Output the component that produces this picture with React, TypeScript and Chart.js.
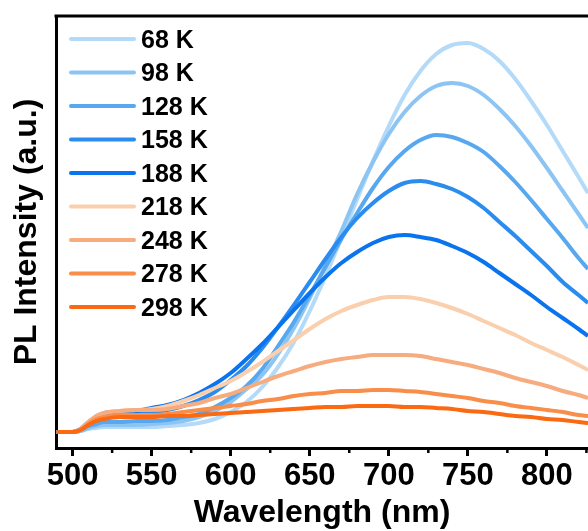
import React, { useEffect, useRef } from 'react';
import { Chart, registerables } from 'chart.js';

Chart.register(...registerables);

// Wavelength grid (nm)
const wavelengths = [490, 500, 505, 510, 515, 520, 530, 540, 550, 560, 570, 580, 590, 600, 610, 620, 630, 640, 650, 660, 670, 680, 690, 700, 710, 720, 730, 740, 750, 760, 770, 780, 790, 800, 810, 820, 826];

// PL intensity (a.u.) per temperature
const k68 = [0, 0, 1, 3, 4, 5, 5, 5, 5, 6, 7, 9, 13, 20, 30, 45, 65, 90, 121, 156, 194, 233, 271, 306, 337, 361, 378, 387, 389, 383, 371, 353, 331, 307, 281, 255, 239];
const k98 = [0, 0, 1, 4, 6, 7, 7, 7, 8, 9, 11, 15, 21, 30, 43, 57, 78, 104, 134, 167, 201, 238, 270, 298, 320, 336, 346, 349, 346, 337, 323, 306, 286, 264, 241, 218, 204];
const k128 = [0, 0, 2, 6, 8, 10, 10, 11, 11, 12, 15, 18, 25, 34, 46, 63, 86, 110, 137, 165, 193, 219, 244, 265, 281, 292, 297, 295, 289, 280, 266, 250, 232, 213, 194, 174, 163];
const k158 = [0, 0, 3, 9, 14, 17, 18, 18, 20, 22, 26, 32, 40, 52, 66, 84, 105, 127, 150, 173, 195, 214, 229, 241, 249, 251, 248, 243, 235, 224, 210, 196, 181, 166, 150, 137, 129];
const k188 = [0, 0, 3, 10, 15, 19, 20, 21, 24, 27, 32, 39, 48, 59, 73, 88, 105, 122, 139, 155, 169, 180, 189, 195, 197, 195, 192, 186, 179, 170, 159, 148, 137, 125, 114, 103, 96];
const k218 = [0, 0, 3, 10, 16, 19, 21, 22, 23, 26, 31, 37, 44, 51, 60, 70, 81, 92, 103, 113, 121, 127, 132, 135, 135, 133, 129, 124, 118, 111, 104, 97, 89, 82, 75, 67, 62];
const k248 = [0, 0, 3, 10, 16, 19, 21, 22, 22, 23, 26, 29, 34, 38, 44, 50, 56, 61, 66, 70, 73, 75, 77, 77, 77, 76, 73, 70, 67, 63, 59, 54, 50, 46, 41, 37, 34];
const k278 = [0, 0, 2, 8, 13, 15, 17, 17, 17, 18, 20, 22, 24, 26, 28, 31, 33, 36, 38, 39, 41, 41, 42, 42, 41, 40, 38, 36, 34, 31, 29, 26, 24, 22, 20, 17, 16];
const k298 = [0, 0, 2, 7, 11, 13, 15, 15, 15, 16, 16, 17, 18, 19, 20, 21, 22, 23, 24, 25, 25, 26, 26, 26, 25, 25, 24, 23, 21, 20, 18, 16, 15, 13, 12, 10, 9];

const seriesLabels = ['68 K', '98 K', '128 K', '158 K', '188 K', '218 K', '248 K', '278 K', '298 K'];
const seriesValues = [k68, k98, k128, k158, k188, k218, k248, k278, k298];
const seriesColors = ['#b3daf8', '#8cc5f4', '#58a8f0', '#2b8cf0', '#0a73ee', '#f9cfad', '#f6ac7e', '#f98e4a', '#fb6913'];

const xMajorTicks = [500, 550, 600, 650, 700, 750, 800];
const xMinorTicks = [525, 575, 625, 675, 725, 775, 825];

const FONT = '"Liberation Sans", Arial, Helvetica, sans-serif';

export default function App() {
  const ref = useRef<HTMLCanvasElement>(null);

  useEffect(() => {
    const canvas = ref.current;
    if (!canvas) return;

    const decorPlugin = {
      id: 'decor',
      afterDraw(chart: any) {
        const ctx = chart.ctx;
        const { left, right, top, bottom } = chart.chartArea;
        ctx.save();
        ctx.strokeStyle = '#000';
        ctx.lineWidth = 3;
        ctx.beginPath();
        ctx.moveTo(left - 1.5, top);
        ctx.lineTo(right, top);
        ctx.stroke();
        const xs = chart.scales.x;
        ctx.lineWidth = 2.5;
        xMinorTicks.forEach((v) => {
          const px = xs.getPixelForValue(v);
          ctx.beginPath();
          ctx.moveTo(px, bottom);
          ctx.lineTo(px, bottom + 5);
          ctx.stroke();
        });
        ctx.font = `bold 25px ${FONT}`;
        ctx.textBaseline = 'middle';
        ctx.textAlign = 'left';
        seriesLabels.forEach((label, i) => {
          const y = top + 23 + i * 33.5;
          ctx.strokeStyle = seriesColors[i];
          ctx.lineWidth = 4;
          ctx.lineCap = 'round';
          ctx.beginPath();
          ctx.moveTo(left + 15, y);
          ctx.lineTo(left + 78, y);
          ctx.stroke();
          ctx.fillStyle = '#000';
          ctx.fillText(label, left + 85, y + 2);
        });
        ctx.restore();
      },
    };

    const chart = new Chart(canvas, {
      type: 'line',
      data: {
        datasets: seriesLabels.map((label, s) => ({
          label,
          data: wavelengths.map((x, i) => ({ x, y: seriesValues[s][i] })),
          borderColor: seriesColors[s],
          backgroundColor: seriesColors[s],
          borderWidth: 4,
          pointRadius: 0,
          cubicInterpolationMode: 'monotone' as const,
          fill: false,
          order: seriesLabels.length - s,
        })),
      },
      options: {
        responsive: false,
        animation: false,
        devicePixelRatio: 1,
        layout: { padding: { top: 16, left: 0, right: 0, bottom: 0 } },
        plugins: {
          legend: { display: false },
          tooltip: { enabled: false },
        },
        scales: {
          x: {
            type: 'linear',
            min: 489.5,
            max: 826,
            afterFit: (scale: any) => {
              scale.height = 83;
            },
            grid: {
              display: true,
              drawOnChartArea: false,
              drawTicks: true,
              tickLength: 8,
              tickWidth: 3,
              tickColor: '#000',
            },
            border: { display: true, color: '#000', width: 3 },
            ticks: {
              stepSize: 50,
              includeBounds: false,
              autoSkip: false,
              maxRotation: 0,
              padding: 2,
              color: '#000',
              font: { family: FONT, size: 31, weight: 'bold' },
              callback: (v: any) => (xMajorTicks.includes(Number(v)) ? String(v) : ''),
            },
            title: {
              display: true,
              text: 'Wavelength (nm)',
              color: '#000',
              font: { family: FONT, size: 32, weight: 'bold', lineHeight: 1.1 },
              padding: { top: 0, bottom: 0 },
            },
          },
          y: {
            type: 'linear',
            min: -16,
            max: 416,
            afterFit: (scale: any) => {
              scale.width = 56;
            },
            grid: { display: false },
            border: { display: true, color: '#000', width: 3 },
            ticks: { display: false },
            title: {
              display: true,
              text: 'PL Intensity (a.u.)',
              color: '#000',
              font: { family: FONT, size: 32, weight: 'bold', lineHeight: 1.2 },
              padding: { top: 8, bottom: 0 },
            },
          },
        },
      },
      plugins: [decorPlugin],
    });

    return () => {
      chart.destroy();
    };
  }, []);

  return (
    <div style={{ position: 'fixed', left: 0, top: 0, width: 588, height: 531, background: '#fff' }}>
      <canvas ref={ref} width={588} height={531} style={{ display: 'block' }} />
    </div>
  );
}
